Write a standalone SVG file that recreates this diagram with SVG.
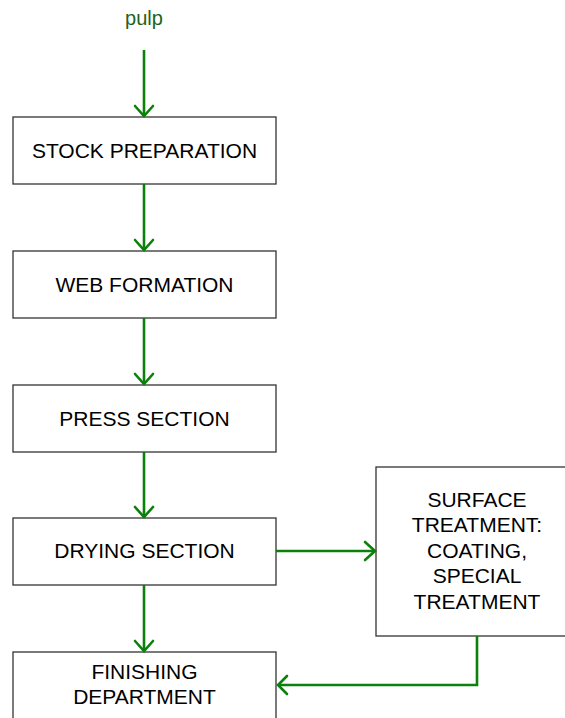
<svg xmlns="http://www.w3.org/2000/svg" width="565" height="718" viewBox="0 0 565 718">
  <style>
    .box { fill: #ffffff; stroke: #333333; stroke-width: 1.3; }
    .label { font-family: "Liberation Sans", Arial, sans-serif; font-size: 21px; fill: #000000; text-anchor: middle; }
    .flow { fill: none; stroke: #0a820a; stroke-width: 2.6; }
    .head { fill: none; stroke: #0a820a; stroke-width: 2.6; stroke-linecap: round; stroke-linejoin: miter; }
  </style>
  <rect width="565" height="718" fill="#ffffff"/>

  <g id="pulp">
    <text class="label" x="144" y="25" style="fill:#1e621e;font-size:20px">pulp</text>
  </g>

  <g id="stock-preparation">
    <rect class="box" x="13" y="117" width="263" height="67"/>
    <text class="label" x="144.5" y="158">STOCK PREPARATION</text>
  </g>

  <g id="web-formation">
    <rect class="box" x="13" y="251" width="263" height="67"/>
    <text class="label" x="144.5" y="292">WEB FORMATION</text>
  </g>

  <g id="press-section">
    <rect class="box" x="13" y="385" width="263" height="67"/>
    <text class="label" x="144.5" y="426">PRESS SECTION</text>
  </g>

  <g id="drying-section">
    <rect class="box" x="13" y="518" width="263" height="67"/>
    <text class="label" x="144.5" y="558">DRYING SECTION</text>
  </g>

  <g id="surface-treatment">
    <rect class="box" x="376" y="467" width="204" height="169"/>
    <text class="label" x="477" y="507">SURFACE</text>
    <text class="label" x="477" y="532">TREATMENT:</text>
    <text class="label" x="477" y="558">COATING,</text>
    <text class="label" x="477" y="583">SPECIAL</text>
    <text class="label" x="477" y="609">TREATMENT</text>
  </g>

  <g id="finishing-department">
    <rect class="box" x="13" y="652" width="263" height="80"/>
    <text class="label" x="144.5" y="679">FINISHING</text>
    <text class="label" x="144.5" y="704">DEPARTMENT</text>
  </g>

  <g id="connectors">
    <!-- pulp -> stock preparation -->
    <line class="flow" x1="144" y1="50" x2="144" y2="116"/>
    <polyline class="head" points="135,106 144,116 153,106"/>
    <!-- stock preparation -> web formation -->
    <line class="flow" x1="144" y1="184" x2="144" y2="250"/>
    <polyline class="head" points="135,240 144,250 153,240"/>
    <!-- web formation -> press section -->
    <line class="flow" x1="144" y1="318" x2="144" y2="384"/>
    <polyline class="head" points="135,374 144,384 153,374"/>
    <!-- press section -> drying section -->
    <line class="flow" x1="144" y1="452" x2="144" y2="517"/>
    <polyline class="head" points="135,507 144,517 153,507"/>
    <!-- drying section -> finishing department -->
    <line class="flow" x1="144" y1="585" x2="144" y2="651"/>
    <polyline class="head" points="135,641 144,651 153,641"/>
    <!-- drying section -> surface treatment -->
    <line class="flow" x1="276" y1="551" x2="375" y2="551"/>
    <polyline class="head" points="365,542 375,551 365,560"/>
    <!-- surface treatment -> finishing department -->
    <polyline class="flow" points="477,636 477,685 278,685"/>
    <polyline class="head" points="287,676 278,685 287,694"/>
  </g>
</svg>
